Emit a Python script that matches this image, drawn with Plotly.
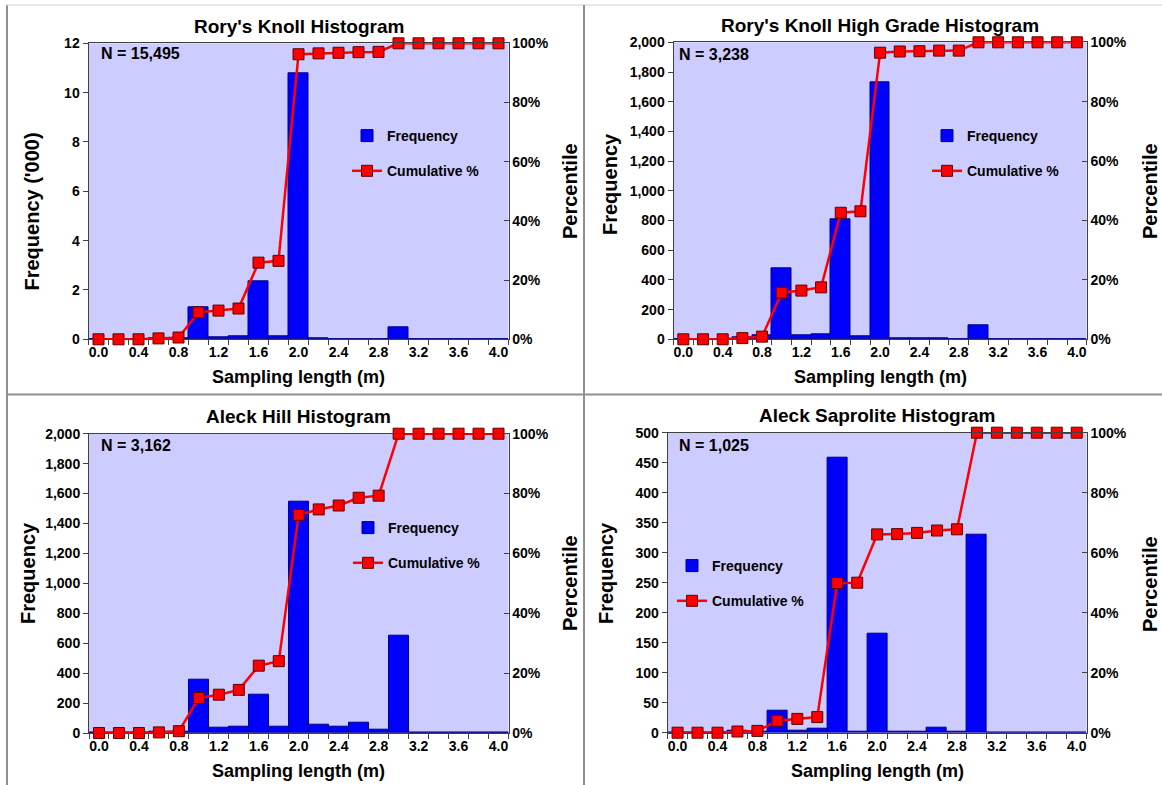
import plotly.graph_objects as go

W, H = 1162, 785

# ---------------- data ----------------
categories = ["0.0", "0.2", "0.4", "0.6", "0.8", "1.0", "1.2", "1.4", "1.6", "1.8", "2.0",
              "2.2", "2.4", "2.6", "2.8", "3.0", "3.2", "3.4", "3.6", "3.8", "4.0"]
tick_labels = ["0.0", "", "0.4", "", "0.8", "", "1.2", "", "1.6", "", "2.0",
               "", "2.4", "", "2.8", "", "3.2", "", "3.6", "", "4.0"]

titles = ["Rory's Knoll Histogram", "Rory's Knoll High Grade Histogram",
          "Aleck Hill Histogram", "Aleck Saprolite Histogram"]
n_labels = ["N = 15,495", "N = 3,238", "N = 3,162", "N = 1,025"]
y_titles = ["Frequency ('000)", "Frequency", "Frequency", "Frequency"]

freq_rory = [0, 0, 0, 0.03, 0.05, 1.31, 0.10, 0.13, 2.36, 0.13, 10.80,
             0.04, 0.01, 0.01, 0.01, 0.47, 0, 0, 0, 0, 0]
cum_rory = [0, 0, 0, 0.3, 0.6, 9.1, 9.7, 10.4, 25.9, 26.5, 96.3,
            96.6, 96.8, 97.0, 97.1, 100, 100, 100, 100, 100, 100]

freq_rory_hg = [0, 0, 0, 12, 25, 478, 25, 31, 808, 20, 1728,
                9, 4, 6, 2, 92, 0, 0, 0, 0, 0]
cum_rory_hg = [0, 0, 0, 0.4, 0.9, 15.7, 16.4, 17.5, 42.6, 43.1, 96.5,
               96.9, 97.0, 97.2, 97.2, 100, 100, 100, 100, 100, 100]

freq_aleck = [0, 0, 0, 6, 12, 355, 33, 40, 256, 45, 1547,
              58, 40, 71, 22, 651, 0, 0, 2, 0, 0]
cum_aleck = [0, 0, 0, 0.2, 0.6, 11.7, 12.8, 14.4, 22.5, 24.0, 72.9,
             74.7, 76.0, 78.6, 79.3, 100, 100, 100, 100, 100, 100]

freq_sap = [0, 0, 0, 4, 2, 36, 3, 6, 458, 2, 165,
            1, 1, 9, 2, 330, 0, 0, 0, 0, 0]
cum_sap = [0, 0, 0, 0.4, 0.6, 4.0, 4.6, 5.2, 49.9, 50.0, 66.1,
           66.2, 66.6, 67.4, 67.8, 100, 100, 100, 100, 100, 100]

freqs = [freq_rory, freq_rory_hg, freq_aleck, freq_sap]
cums = [cum_rory, cum_rory_hg, cum_aleck, cum_sap]
y_ranges = [(0, 12, 2, ""), (0, 2000, 200, ","), (0, 2000, 200, ","), (0, 500, 50, "")]

# ---------------- layout helpers (pixel boxes) ----------------
boxes = [  # left, right, top, bottom
    (88.5, 508.5, 43.3, 339.3),
    (673.5, 1086.7, 42.3, 339.3),
    (89.0, 508.5, 433.7, 733.0),
    (667.6, 1086.7, 432.7, 732.7),
]
legend_pos = [(347, 120), (927, 120), (348, 512), (672, 550)]
ytitle_pos = [(31.5, 212), (610, 184), (28, 573), (606, 573)]
pct_pos = [(570, 191), (1150, 191), (570, 583), (1150, 584)]
n_pos = [(99, 54), (677, 55), (99, 445), (677, 445)]

def px(x):
    return x / W

def py(y):
    return 1 - y / H

FONT = "Liberation Sans, Arial, sans-serif"
AX = "#404040"

fig = go.Figure()
layout = dict(
    width=W, height=H, margin=dict(l=0, r=0, t=0, b=0, pad=0, autoexpand=False),
    paper_bgcolor="white", plot_bgcolor="#CCCCFF",
    font=dict(family=FONT, size=14, color="black", weight="bold"),
    barmode="overlay", bargap=0, showlegend=True,
)
annotations = []

for i in range(4):
    l, r, t, b = boxes[i]
    xa = f"xaxis{'' if i == 0 else i + 1}"
    ya = f"yaxis{'' if i == 0 else i + 1}"
    ya2 = f"yaxis{i + 5}"
    xref = f"x{'' if i == 0 else i + 1}"
    yref = f"y{'' if i == 0 else i + 1}"
    y2ref = f"y{i + 5}"
    leg = "legend" if i == 0 else f"legend{i + 1}"

    fig.add_trace(go.Bar(
        x=categories, y=freqs[i], xaxis=xref, yaxis=yref, name="Frequency",
        marker=dict(color="#0000FF", line=dict(color="#000080", width=1)),
        legend=leg, legendgroup=f"f{i}", width=1.0,
    ))
    fig.add_trace(go.Scatter(
        x=categories, y=cums[i], xaxis=xref, yaxis=y2ref, name="Cumulative %",
        mode="lines+markers", cliponaxis=False,
        line=dict(color="#FF0000", width=2.5),
        marker=dict(symbol="square", size=11, color="#FF0000",
                    line=dict(color="#600000", width=1)),
        legend=leg, legendgroup=f"c{i}",
    ))

    lo, hi, dt, fmt = y_ranges[i]
    layout[xa] = dict(
        domain=[px(l), px(r)], anchor=yref, type="category", automargin=False,
        categoryorder="array", categoryarray=categories,
        tickmode="array", tickvals=categories, ticktext=tick_labels, tickangle=0,
        tickson="boundaries", ticks="outside", ticklen=5, tickcolor=AX,
        showline=True, linecolor=AX, linewidth=1, mirror=True,
        showgrid=False, zeroline=False, range=[-0.5, 20.5],
        tickfont=dict(size=14, family=FONT, weight="bold"),
    )
    layout[ya] = dict(
        domain=[py(b), py(t)], anchor=xref, range=[lo, hi], dtick=dt, tick0=0,
        tickformat=fmt, ticks="outside", ticklen=5, tickcolor=AX, automargin=False,
        showline=True, linecolor=AX, linewidth=1, showgrid=False, zeroline=False,
        tickfont=dict(size=14, family=FONT, weight="bold"),
    )
    layout[ya2] = dict(
        overlaying=yref, anchor=xref, side="right", range=[0, 100], dtick=20,
        ticksuffix="%", ticks="inside", ticklen=5, tickcolor=AX, automargin=False,
        showline=True, linecolor=AX, linewidth=1, showgrid=False, zeroline=False,
        tickfont=dict(size=14, family=FONT, weight="bold"),
    )
    lx, ly = legend_pos[i]
    layout[leg] = dict(
        x=px(lx), y=py(ly), xanchor="left", yanchor="top",
        bgcolor="rgba(0,0,0,0)", borderwidth=0, tracegroupgap=14,
        font=dict(size=14, family=FONT, weight="bold", color="black"),
        itemwidth=30, traceorder="grouped",
    )

    cx = (l + r) / 2
    annotations.append(dict(text=titles[i], x=px(cx), y=py(t - 17), xref="paper", yref="paper",
                            showarrow=False, xanchor="center", yanchor="middle",
                            font=dict(size=19, family=FONT, weight="bold")))
    annotations.append(dict(text="Sampling length (m)", x=px(cx), y=py(b + 38), xref="paper",
                            yref="paper", showarrow=False, xanchor="center", yanchor="middle",
                            font=dict(size=18, family=FONT, weight="bold")))
    tx, ty = ytitle_pos[i]
    annotations.append(dict(text=y_titles[i], x=px(tx), y=py(ty), xref="paper", yref="paper",
                            showarrow=False, textangle=-90, xanchor="center", yanchor="middle",
                            font=dict(size=20, family=FONT, weight="bold")))
    qx, qy = pct_pos[i]
    annotations.append(dict(text="Percentile", x=px(qx), y=py(qy), xref="paper", yref="paper",
                            showarrow=False, textangle=-90, xanchor="center", yanchor="middle",
                            font=dict(size=20, family=FONT, weight="bold")))
    nx, ny = n_pos[i]
    annotations.append(dict(text=n_labels[i], x=px(nx), y=py(ny), xref="paper", yref="paper",
                            showarrow=False, xanchor="left", yanchor="middle",
                            font=dict(size=16, family=FONT, weight="bold")))

layout["annotations"] = annotations
GRID = "#909090"
layout["shapes"] = [
    dict(type="line", xref="paper", yref="paper", x0=px(7), x1=px(7), y0=py(5), y1=0,
         line=dict(color=GRID, width=2)),
    dict(type="line", xref="paper", yref="paper", x0=px(7), x1=1, y0=py(5), y1=py(5),
         line=dict(color="#E0E0E0", width=1.5)),
    dict(type="line", xref="paper", yref="paper", x0=px(584), x1=px(584), y0=py(5), y1=0,
         line=dict(color=GRID, width=2)),
    dict(type="line", xref="paper", yref="paper", x0=px(7), x1=1, y0=py(394.5), y1=py(394.5),
         line=dict(color=GRID, width=2)),
]
fig.update_layout(**layout)

PAGE_JS = (
    "document.documentElement.style.margin='0px';"
    "document.body.style.margin='0px';"
    "document.body.style.overflow='hidden';"
    "document.documentElement.style.overflow='hidden';"
    "var gd=document.getElementById('{plot_id}');"
    "gd.style.position='fixed';gd.style.left='0px';gd.style.top='0px';"
)
fig.write_html("out.html", config={"displayModeBar": False}, post_script=PAGE_JS)
